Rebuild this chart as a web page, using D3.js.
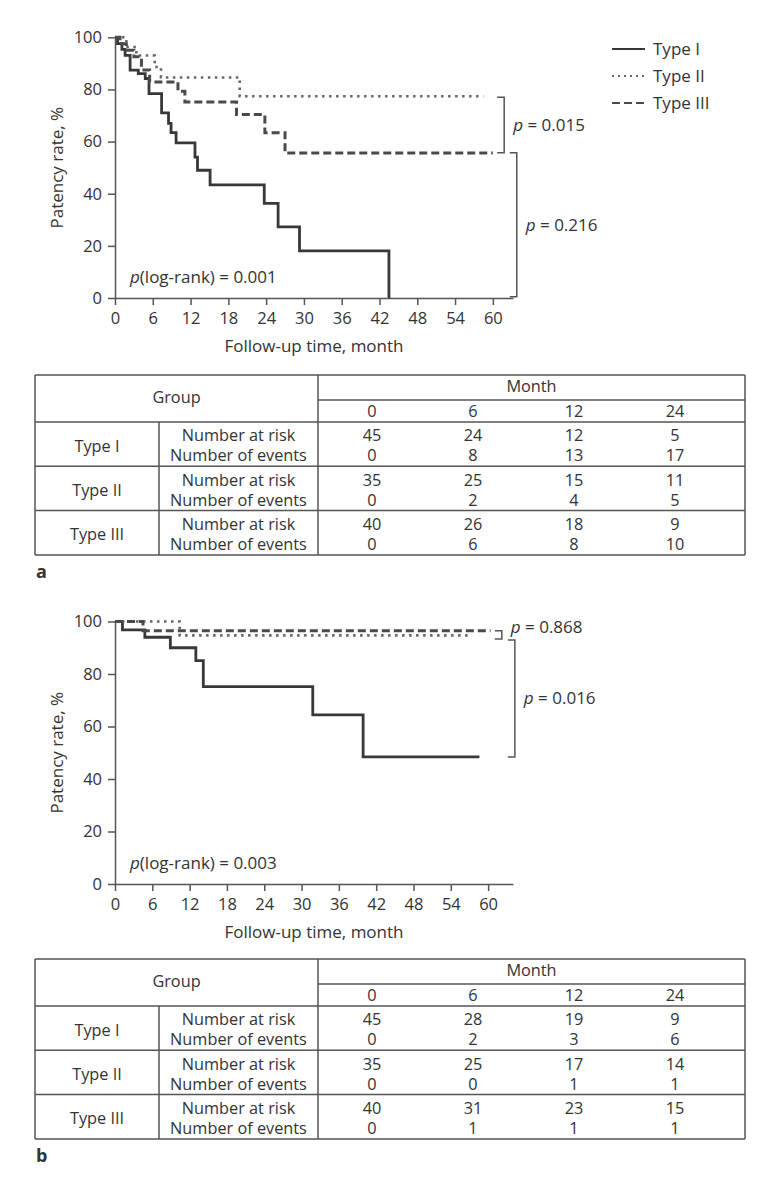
<!DOCTYPE html>
<html>
<head>
<meta charset="utf-8">
<script src="https://d3js.org/d3.v7.min.js"></script>
<style>
  body { margin: 0; background: #fff; }
  text { font-family: 'Open Sans', sans-serif; fill: #333; }
</style>
</head>
<body>
<script>

// ---- data: chart a (step curves: month at which the rate changes, rate after change)
var aType1Month = [0, 0.4, 1.1, 1.6, 2.4, 3.7, 4.8, 5.4, 7.4, 8.5, 8.9, 9.7, 12.7, 13.1, 15.1, 23.7, 25.9, 29.3, 43.5];
var aType1Rate  = [100, 97.6, 95.4, 93.1, 87.4, 86.1, 84.2, 78.4, 71, 67, 63.4, 59.5, 54, 49, 43.4, 36.3, 27.3, 18.1, 0];
var aType2Month = [0, 1.8, 3.4, 6.3, 7.3, 19.8, 58.5];
var aType2Rate  = [100, 96.3, 93, 88.6, 84.6, 77.4, 77.4];
var aType3Month = [0, 0.8, 1.8, 3, 4.2, 5.5, 10, 11.1, 19.3, 23.8, 27, 60];
var aType3Rate  = [100, 97.5, 95, 92.5, 87.5, 82.9, 79.3, 75.2, 70.4, 63.4, 55.6, 55.6];

// ---- data: chart b
var bType1Month = [0, 1.2, 4.8, 8.9, 13, 14.2, 31.8, 39.9, 58.6];
var bType1Rate  = [100, 96.8, 94, 90, 85.1, 75.2, 64.4, 48.4, 48.4];
var bType2Month = [0, 10.4, 57];
var bType2Rate  = [100, 94.7, 94.7];
var bType3Month = [0, 4.5, 60.4];
var bType3Rate  = [100, 96.5, 96.5];

var groups = ["Type I", "Type II", "Type III"];
var xTicks = [0, 6, 12, 18, 24, 30, 36, 42, 48, 54, 60];
var yTicks = [0, 20, 40, 60, 80, 100];

// p-value brackets: between two rates, and label
var aBrackets = [{ hi: 77.0, lo: 55.7, at: 61.8, label: "0.015" },
                 { hi: 55.7, lo: 0.5, at: 63.8, label: "0.216" }];
var bBrackets = [{ hi: 96.5, lo: 93.3, at: 62.2, label: "0.868" },
                 { hi: 93.0, lo: 48.4, at: 64.3, label: "0.016" }];

// ---- data: risk tables
var tableMonths = ["0", "6", "12", "24"];
var rowLabels = ["Number at risk", "Number of events"];
var aAtRisk = [[45, 24, 12, 5], [35, 25, 15, 11], [40, 26, 18, 9]];
var aEvents = [[0, 8, 13, 17], [0, 2, 4, 5], [0, 6, 8, 10]];
var bAtRisk = [[45, 28, 19, 9], [35, 25, 17, 14], [40, 31, 23, 15]];
var bEvents = [[0, 2, 3, 6], [0, 0, 1, 1], [0, 1, 1, 1]];

var styles = {
  "Type I":   { color: "#383838", width: 2.8, dash: null },
  "Type II":  { color: "#666", width: 2.6, dash: "2.5,4.5" },
  "Type III": { color: "#4a4a4a", width: 3, dash: "8,4" }
};

var svg = d3.select("body").append("svg")
  .attr("width", 778).attr("height", 1201);
svg.append("rect").attr("width", 778).attr("height", 1201).attr("fill", "#fff");

function zip(ms, rs) { return ms.map(function (m, i) { return { m: m, r: rs[i] }; }); }

function drawChart(cfg) {
  var g = svg.append("g");
  var x = d3.scaleLinear().domain([0, cfg.xMax]).range([115, 513]);
  var y = d3.scaleLinear().domain([0, 100]).range([cfg.y0, cfg.y100]);

  var xAxis = g.append("g")
    .attr("transform", "translate(0," + cfg.y0 + ")")
    .call(d3.axisBottom(x).tickValues(xTicks).tickSize(7).tickPadding(7).tickSizeOuter(0));
  var yAxis = g.append("g")
    .attr("transform", "translate(115,0)")
    .call(d3.axisLeft(y).tickValues(yTicks).tickSize(7).tickPadding(6).tickSizeOuter(0));
  [xAxis, yAxis].forEach(function (a) {
    a.selectAll("path, line").attr("stroke", "#555").attr("stroke-width", 1.5);
    a.selectAll("text").style("font-size", "16.5px").attr("fill", "#333");
  });

  g.append("text")
    .attr("x", 314).attr("y", cfg.y0 + 48).attr("dy", "0.35em")
    .attr("text-anchor", "middle").style("font-size", "17px")
    .text("Follow-up time, month");
  g.append("text")
    .attr("transform", "translate(57," + (cfg.y0 + cfg.y100) / 2 + ") rotate(-90)")
    .attr("dy", "0.35em").attr("text-anchor", "middle").style("font-size", "17px")
    .text("Patency rate, %");

  var line = d3.line()
    .x(function (d) { return x(d.m); })
    .y(function (d) { return y(d.r); })
    .curve(d3.curveStepAfter);

  g.selectAll(".km").data(cfg.series).enter().append("path")
    .attr("d", function (d) { return line(d.values); })
    .attr("fill", "none")
    .attr("stroke", function (d) { return styles[d.name].color; })
    .attr("stroke-width", function (d) { return styles[d.name].width; })
    .attr("stroke-dasharray", function (d) { return styles[d.name].dash; });

  // log-rank text
  var lr = g.append("text").attr("x", 130).attr("y", cfg.y0 - 21).attr("dy", "0.35em")
    .style("font-size", "17px");
  lr.append("tspan").style("font-style", "italic").text("p");
  lr.append("tspan").text("(log-rank) = " + cfg.logrank);

  // brackets
  cfg.brackets.forEach(function (b) {
    var bx = x(b.at);
    g.append("path")
      .attr("d", "M" + (bx - 7) + "," + y(b.hi) + "H" + bx + "V" + y(b.lo) + "H" + (bx - 7))
      .attr("fill", "none").attr("stroke", "#555").attr("stroke-width", 1.5);
    var t = g.append("text")
      .attr("x", bx + 9)
      .attr("y", b.hi - b.lo < 8 ? y(b.hi) - 4 : (y(b.hi) + y(b.lo)) / 2)
      .attr("dy", "0.35em").style("font-size", "17px");
    t.append("tspan").style("font-style", "italic").text("p");
    t.append("tspan").text(" = " + b.label);
  });

  if (cfg.legend) {
    var lg = g.append("g");
    groups.forEach(function (name, i) {
      var ly = 49 + i * 27;
      lg.append("line").attr("x1", 612).attr("x2", 645).attr("y1", ly).attr("y2", ly)
        .attr("stroke", styles[name].color).attr("stroke-width", 2.2)
        .attr("stroke-dasharray", name === "Type II" ? "2,4" : name === "Type III" ? "8,4" : null);
      lg.append("text").attr("x", 653).attr("y", ly).attr("dy", "0.35em")
        .style("font-size", "17px").text(name);
    });
  }
}

function drawTable(top, atRisk, events, letter) {
  var g = svg.append("g");
  var x0 = 35, x1 = 159, x2 = 318, x3 = 745;
  var monthLine = top + 25, headBottom = top + 47, rowH = 44.3;
  var bottom = headBottom + rowH * 3;
  var col = d3.scaleBand().domain(tableMonths).range([321.5, 725.5]);

  var lines = [
    [x0, top, x3, top], [x2, monthLine, x3, monthLine], [x0, headBottom, x3, headBottom],
    [x0, headBottom + rowH, x3, headBottom + rowH], [x0, headBottom + 2 * rowH, x3, headBottom + 2 * rowH],
    [x0, bottom, x3, bottom],
    [x0, top, x0, bottom], [x2, top, x2, bottom], [x3, top, x3, bottom], [x1, headBottom, x1, bottom]
  ];
  g.selectAll("line").data(lines).enter().append("line")
    .attr("x1", function (d) { return d[0]; }).attr("y1", function (d) { return d[1]; })
    .attr("x2", function (d) { return d[2]; }).attr("y2", function (d) { return d[3]; })
    .attr("stroke", "#555").attr("stroke-width", 1.5);

  function txt(xx, yy, s) {
    g.append("text").attr("x", xx).attr("y", yy).attr("dy", "0.35em")
      .attr("text-anchor", "middle").style("font-size", "16.3px").text(s);
  }
  txt((x0 + x2) / 2, (top + headBottom) / 2 - 1, "Group");
  txt((x2 + x3) / 2, (top + monthLine) / 2 - 1, "Month");
  tableMonths.forEach(function (m) {
    txt(col(m) + col.bandwidth() / 2, (monthLine + headBottom) / 2, m);
  });
  groups.forEach(function (name, i) {
    var rt = headBottom + i * rowH;
    txt((x0 + x1) / 2, rt + 24, name);
    txt((x1 + x2) / 2, rt + 13.5, rowLabels[0]);
    txt((x1 + x2) / 2, rt + 33.5, rowLabels[1]);
    tableMonths.forEach(function (m, j) {
      txt(col(m) + col.bandwidth() / 2, rt + 13.5, atRisk[i][j]);
      txt(col(m) + col.bandwidth() / 2, rt + 33.5, events[i][j]);
    });
  });
  g.append("text").attr("x", 36).attr("y", bottom + 17).attr("dy", "0.35em")
    .style("font-size", "18px").style("font-weight", "bold").text(letter);
}

drawChart({
  y0: 298, y100: 37.3, xMax: 63.2, logrank: "0.001", legend: true,
  series: [
    { name: "Type I", values: zip(aType1Month, aType1Rate) },
    { name: "Type II", values: zip(aType2Month, aType2Rate) },
    { name: "Type III", values: zip(aType3Month, aType3Rate) }
  ],
  brackets: aBrackets
});

drawChart({
  y0: 884, y100: 621.5, xMax: 64, logrank: "0.003", legend: false,
  series: [
    { name: "Type I", values: zip(bType1Month, bType1Rate) },
    { name: "Type II", values: zip(bType2Month, bType2Rate) },
    { name: "Type III", values: zip(bType3Month, bType3Rate) }
  ],
  brackets: bBrackets
});

drawTable(375, aAtRisk, aEvents, "a");
drawTable(959, bAtRisk, bEvents, "b");

</script>
</body>
</html>
